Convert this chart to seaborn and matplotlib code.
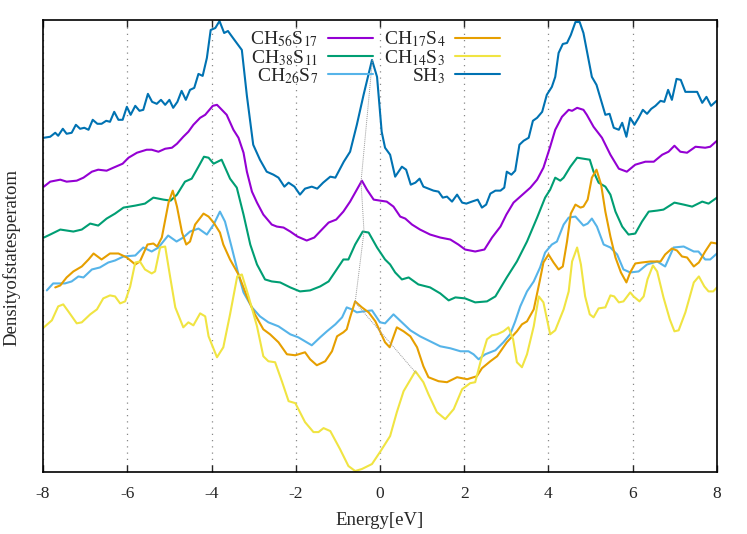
import pandas as pd
import seaborn as sns
import matplotlib
matplotlib.use("Agg")
import matplotlib.pyplot as plt

# energy grid points [eV] and DOS heights (arbitrary units)
sh3_e = [-7.98, -7.83, -7.71, -7.64, -7.53, -7.44, -7.32, -7.22, -7.12, -7.02, -6.92, -6.82, -6.71,
         -6.61, -6.50, -6.41, -6.31, -6.21, -6.11, -6.01, -5.92, -5.81, -5.71, -5.62, -5.51, -5.41,
         -5.30, -5.20, -5.10, -5.00, -4.91, -4.81, -4.71, -4.61, -4.51, -4.41, -4.31, -4.21, -4.11,
         -4.02, -3.91, -3.81, -3.70, -3.61, -3.49, -3.28, -3.16, -3.01, -2.85, -2.69, -2.53, -2.41,
         -2.27, -2.17, -2.03, -1.90, -1.78, -1.62, -1.49, -1.35, -1.18, -1.06, -0.86, -0.71, -0.55,
         -0.39, -0.19, -0.07, 0.04, 0.12, 0.24, 0.36, 0.44, 0.52, 0.62, 0.73, 0.84, 0.94, 1.03,
         1.15, 1.27, 1.39, 1.49, 1.59, 1.71, 1.83, 1.95, 2.05, 2.18, 2.32, 2.42, 2.52, 2.62, 2.74,
         2.86, 2.95, 3.01, 3.12, 3.21, 3.31, 3.41, 3.53, 3.63, 3.73, 3.85, 3.96, 4.08, 4.16, 4.24,
         4.34, 4.44, 4.53, 4.64, 4.74, 4.83, 4.93, 5.03, 5.14, 5.23, 5.35, 5.45, 5.55, 5.67, 5.75,
         5.85, 5.94, 6.04, 6.14, 6.24, 6.34, 6.44, 6.54, 6.66, 6.75, 6.84, 6.93, 7.04, 7.14, 7.25,
         7.37, 7.53, 7.65, 7.75, 7.86, 7.99]
sh3_dos = [334, 335, 339, 336, 343, 338, 339, 347, 343, 344, 342, 352, 348,
           348, 351, 350, 360, 352, 352, 365, 357, 366, 361, 362, 378, 370,
           368, 372, 367, 372, 364, 370, 381, 372, 382, 384, 398, 396, 414,
           442, 444, 451, 439, 441, 434, 422, 376, 327, 312, 300, 297, 294,
           285, 289, 285, 277, 283, 285, 283, 289, 295, 294, 310, 320, 347,
           377, 412, 395, 340, 324, 317, 295, 300, 305, 302, 287, 289, 293, 285,
           283, 281, 280, 274, 275, 270, 277, 269, 268, 270, 272, 264, 267, 278, 281,
           281, 284, 300, 297, 301, 327, 331, 334, 351, 354, 360, 377, 385, 395, 419,
           428, 429, 437, 450, 450, 439, 417, 395, 387, 374, 357, 358, 344, 342, 349,
           335, 354, 347, 354, 362, 358, 363, 366, 371, 370, 382, 372, 393, 392, 380,
           380, 380, 369, 375, 366, 371]

ch56_e = [-7.98, -7.83, -7.59, -7.44, -7.20, -7.04, -6.84, -6.69, -6.49, -6.33, -6.11, -5.97, -5.77,
          -5.54, -5.42, -5.26, -5.10, -4.94, -4.82, -4.67, -4.55, -4.43, -4.27, -4.15, -3.97, -3.87,
          -3.80, -3.64, -3.48, -3.36, -3.24, -3.16, -3.04, -2.92, -2.77, -2.57, -2.45, -2.29, -2.13,
          -1.96, -1.74, -1.56, -1.38, -1.22, -1.04, -0.87, -0.71, -0.55, -0.43, -0.31, -0.15, 0.00,
          0.16, 0.32, 0.48, 0.60, 0.76, 0.95, 1.19, 1.43, 1.67, 1.86, 2.02, 2.26, 2.48, 2.66, 2.86,
          3.00, 3.17, 3.33, 3.57, 3.73, 3.88, 4.04, 4.16, 4.32, 4.48, 4.56, 4.68, 4.83, 4.91, 5.07,
          5.27, 5.47, 5.67, 5.86, 6.06, 6.30, 6.50, 6.70, 6.85, 6.99, 7.13, 7.29, 7.49, 7.72, 7.84,
          8.00]
ch56_dos = [285, 290, 292, 290, 291, 294, 300, 302, 301, 304, 308, 314, 319,
            322, 322, 320, 323, 324, 328, 335, 340, 347, 354, 357, 366, 367,
            364, 357, 342, 334, 319, 300, 280, 269, 257, 247, 245, 244, 240,
            235, 231, 234, 242, 249, 252, 260, 270, 282, 291, 282, 272, 271,
            270, 265, 255, 253, 247, 242, 237, 234, 232, 227, 222, 220, 222, 234, 245,
            257, 269, 275, 284, 292, 304, 325, 342, 355, 362, 361, 364, 362, 357, 345,
            334, 317, 303, 300, 307, 310, 310, 317, 320, 326, 320, 319, 325, 324, 325,
            331]

ch38_e = [-7.98, -7.83, -7.59, -7.28, -7.08, -6.88, -6.69, -6.49, -6.29, -6.09, -5.81, -5.58, -5.38,
          -5.14, -4.97, -4.82, -4.63, -4.47, -4.31, -4.18, -4.07, -3.95, -3.76, -3.56, -3.40, -3.24,
          -3.08, -2.92, -2.73, -2.57, -2.37, -2.13, -1.90, -1.66, -1.42, -1.22, -1.06, -0.87, -0.75,
          -0.59, -0.41, -0.27, -0.07, 0.12, 0.24, 0.36, 0.52, 0.68, 0.91, 1.19, 1.43, 1.63, 1.79,
          2.02, 2.26, 2.54, 2.74, 3.01, 3.25, 3.49, 3.73, 3.92, 4.04, 4.16, 4.28, 4.36, 4.52, 4.68,
          4.83, 4.98, 5.07, 5.19, 5.35, 5.47, 5.59, 5.75, 5.90, 6.06, 6.22, 6.38, 6.58, 6.73, 6.99,
          7.21, 7.41, 7.65, 7.80, 8.00]
ch38_dos = [234, 237, 242, 240, 242, 248, 246, 253, 258, 264, 266, 268, 274,
            272, 271, 277, 290, 293, 305, 315, 314, 308, 312, 293, 284, 257,
            227, 207, 192, 190, 189, 184, 180, 181, 185, 190, 200, 212, 212,
            227, 240, 239, 224, 212, 207, 199, 192, 194, 187, 184, 178, 171, 174,
            173, 169, 170, 175, 194, 210, 230, 254, 274, 282, 294, 291, 294, 305, 314,
            313, 312, 300, 289, 285, 277, 260, 245, 237, 238, 250, 260, 261, 262, 269,
            267, 265, 270, 268, 274]

ch26_e = [-7.91, -7.76, -7.48, -7.32, -7.16, -7.04, -6.84, -6.65, -6.45, -6.29, -6.09, -5.81, -5.62,
          -5.42, -5.26, -5.03, -4.83, -4.67, -4.51, -4.31, -4.11, -3.95, -3.80, -3.68, -3.52, -3.36,
          -3.24, -3.04, -2.85, -2.65, -2.41, -2.13, -1.94, -1.74, -1.62, -1.42, -1.26, -1.06, -0.90,
          -0.79, -0.67, -0.55, -0.39, -0.19, 0.00, 0.12, 0.32, 0.52, 0.72, 0.95, 1.19, 1.43, 1.67,
          1.91, 2.10, 2.22, 2.34, 2.50, 2.74, 2.93, 3.09, 3.21, 3.33, 3.49, 3.65, 3.80, 3.92, 4.08,
          4.20, 4.36, 4.48, 4.64, 4.83, 4.93, 5.03, 5.15, 5.31, 5.47, 5.63, 5.78, 5.94, 6.14, 6.34,
          6.58, 6.77, 6.97, 7.21, 7.45, 7.56, 7.72, 7.84, 8.00]
ch26_dos = [181, 188, 188, 190, 195, 194, 202, 204, 209, 211, 215, 216, 224,
            220, 224, 236, 230, 234, 240, 243, 237, 247, 260, 250, 224, 197,
            179, 164, 155, 149, 145, 137, 134, 129, 126, 134, 140, 147, 154,
            164, 162, 159, 160, 161, 149, 148, 157, 149, 141, 135, 130, 125, 123,
            120, 120, 117, 112, 117, 121, 129, 137, 150, 165, 180, 190, 204, 219, 227,
            230, 247, 254, 255, 246, 248, 253, 245, 227, 224, 217, 202, 199, 200, 207,
            210, 205, 224, 225, 220, 220, 212, 212, 218]

ch17_e = [-7.71, -7.59, -7.44, -7.28, -7.08, -6.92, -6.80, -6.61, -6.41, -6.21, -6.01, -5.81, -5.70,
          -5.52, -5.38, -5.29, -5.18, -5.02, -4.92, -4.82, -4.70, -4.60, -4.51, -4.39, -4.19, -4.07,
          -3.95, -3.80, -3.72, -3.56, -3.36, -3.16, -2.97, -2.77, -2.61, -2.41, -2.21, -2.01, -1.78,
          -1.66, -1.50, -1.30, -1.14, -1.02, -0.87, -0.79, -0.71, -0.59, -0.43, -0.27, -0.11, 0.00,
          0.12, 0.23, 0.40, 0.56, 0.72, 0.88, 1.03, 1.15, 1.39, 1.59, 1.83, 2.07, 2.30, 2.42, 2.62,
          2.78, 3.01, 3.25, 3.37, 3.49, 3.65, 3.79, 3.88, 4.00, 4.12, 4.24, 4.34, 4.44, 4.53, 4.64,
          4.76, 4.83, 4.93, 5.03, 5.14, 5.25, 5.35, 5.47, 5.59, 5.72, 5.85, 5.94, 6.06, 6.22, 6.42,
          6.66, 6.77, 6.93, 7.05, 7.17, 7.29, 7.45, 7.57, 7.72, 7.86, 8.00]
ch17_dos = [184, 186, 194, 200, 205, 212, 218, 212, 218, 218, 214, 207, 210,
            227, 228, 225, 234, 269, 281, 265, 239, 227, 230, 247, 258, 255,
            249, 239, 227, 212, 197, 175, 157, 142, 137, 129, 117, 116, 119,
            112, 106, 110, 120, 135, 139, 142, 154, 170, 164, 159, 150, 140,
            129, 124, 144, 140, 135, 124, 105, 94, 90, 89, 94, 92, 95, 103, 110,
            115, 129, 140, 147, 150, 162, 190, 209, 217, 209, 202, 205, 230, 258, 267,
            264, 265, 272, 294, 302, 287, 260, 235, 214, 199, 189, 199, 208, 209, 210,
            210, 217, 223, 221, 215, 214, 205, 209, 220, 229, 228]

ch14_e = [-7.98, -7.79, -7.64, -7.52, -7.40, -7.20, -7.08, -6.88, -6.72, -6.57, -6.41, -6.29, -6.17,
          -6.05, -5.93, -5.81, -5.70, -5.58, -5.42, -5.34, -5.22, -5.10, -4.98, -4.86, -4.67, -4.55,
          -4.43, -4.27, -4.15, -4.07, -3.87, -3.72, -3.56, -3.39, -3.28, -3.12, -2.92, -2.77, -2.65,
          -2.49, -2.33, -2.17, -2.01, -1.78, -1.58, -1.46, -1.34, -1.18, -0.95, -0.75, -0.59, -0.43,
          -0.19, 0.00, 0.24, 0.40, 0.56, 0.84, 1.03, 1.15, 1.35, 1.55, 1.75, 1.95, 2.14, 2.26, 2.42,
          2.54, 2.66, 2.78, 2.93, 3.05, 3.16, 3.25, 3.37, 3.49, 3.65, 3.77, 3.88, 4.04, 4.16, 4.36,
          4.48, 4.56, 4.68, 4.77, 4.87, 4.98, 5.07, 5.19, 5.35, 5.47, 5.56, 5.67, 5.78, 5.94, 6.02,
          6.16, 6.26, 6.35, 6.48, 6.58, 6.73, 6.88, 6.99, 7.09, 7.25, 7.45, 7.57, 7.70, 7.80, 7.91,
          8.00]
ch14_dos = [144, 151, 165, 167, 160, 148, 149, 157, 162, 173, 176, 175, 168,
            170, 185, 209, 210, 202, 198, 200, 224, 225, 194, 164, 144, 149,
            146, 158, 155, 135, 114, 124, 157, 195, 197, 175, 145, 115, 110,
            109, 90, 70, 68, 49, 39, 39, 43, 40, 22, 5, 0, 2,
            7, 19, 35, 59, 80, 100, 89, 77, 59, 52, 62, 82, 88, 89, 115,
            132, 136, 137, 140, 144, 132, 109, 104, 117, 145, 175, 169, 137, 141, 162,
            180, 210, 224, 207, 175, 157, 154, 163, 164, 176, 175, 169, 170, 179, 175,
            170, 175, 192, 206, 200, 174, 152, 140, 141, 159, 189, 195, 185, 180, 180,
            184]

# guide line through the peak closest to the Fermi level
peak_e = [-0.18, -0.45, -0.38, -0.59, 0.86]
peak_dos = [412, 290, 240, 169, 98]

series = [
    (r"CH$_{56}$S$_{17}$", ch56_e, ch56_dos, "#9400D3"),
    (r"CH$_{38}$S$_{11}$", ch38_e, ch38_dos, "#009E73"),
    (r"CH$_{26}$S$_{7}$", ch26_e, ch26_dos, "#56B4E9"),
    (r"CH$_{17}$S$_{4}$", ch17_e, ch17_dos, "#E69F00"),
    (r"CH$_{14}$S$_{3}$", ch14_e, ch14_dos, "#F0E442"),
    (r"SH$_{3}$", sh3_e, sh3_dos, "#0072B2"),
]

sns.set_style("white")
plt.rcParams["font.family"] = ["Liberation Serif", "DejaVu Serif"]
plt.rcParams["mathtext.fontset"] = "stix"
plt.rcParams["axes.unicode_minus"] = False

fig = plt.figure(figsize=(7.47, 5.34), dpi=100)
ax = fig.add_axes([0.0576, 0.1161, 0.9022, 0.8464])

ax.grid(axis="x", color="#888888", linestyle=(0, (1, 4)), linewidth=0.9)

for name, e, dos, col in series:
    df = pd.DataFrame({"Energy": e, "DOS": dos})
    sns.lineplot(data=df, x="Energy", y="DOS", color=col, linewidth=1.5,
                 label=name, ax=ax, sort=False, estimator=None)

guide = pd.DataFrame({"Energy": peak_e, "DOS": peak_dos})
sns.lineplot(data=guide, x="Energy", y="DOS", color="#999999", linewidth=0.7,
             linestyle=(0, (1, 1)), ax=ax, sort=False, estimator=None, legend=False)

ax.set_xlim(-8, 8)
ax.set_ylim(-1, 452)
ax.set_xticks(range(-8, 9, 2))
ax.set_yticks([])
ax.tick_params(axis="x", direction="in", top=True, bottom=True, length=5,
               width=1.0, labelsize=12.5, pad=10)
for s in ax.spines.values():
    s.set_linewidth(1.2)
    s.set_color("black")

ax.set_xlabel("Energy[eV]", fontsize=13.5, labelpad=7)
ax.set_ylabel("Densityofstatesperatom", fontsize=13.5)
ax.yaxis.set_label_coords(-0.034, 0.475)

ax.legend(ncol=2, loc="upper center", bbox_to_anchor=(0.4926, 1.0), frameon=False,
          markerfirst=False, fontsize=14, handlelength=2.3, handletextpad=0.5,
          columnspacing=0.55, labelspacing=-0.08, borderaxespad=0.1)

fig.savefig("out.png", dpi=100)
